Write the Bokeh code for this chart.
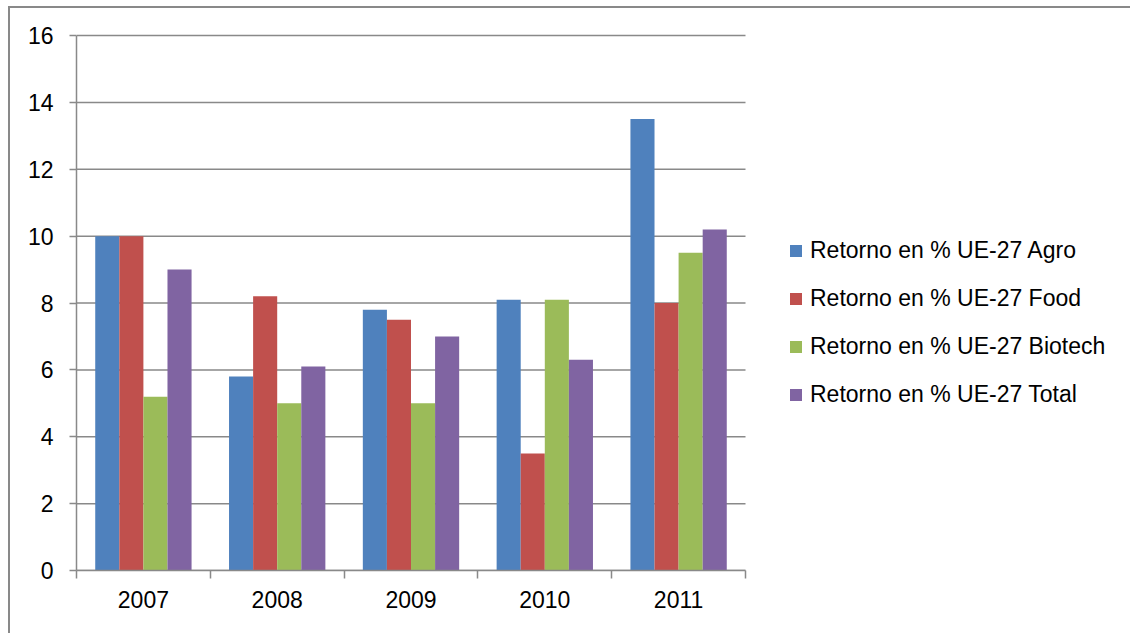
from bokeh.plotting import figure
from bokeh.models import ColumnDataSource, Range1d, FixedTicker, SingleIntervalTicker, Legend, LegendItem, Grid
from bokeh.transform import dodge
from bokeh.embed import file_html
from bokeh.resources import INLINE

years = ["2007", "2008", "2009", "2010", "2011"]
agro = [10.0, 5.8, 7.8, 8.1, 13.5]
food = [10.0, 8.2, 7.5, 3.5, 8.0]
biotech = [5.2, 5.0, 5.0, 8.1, 9.5]
total = [9.0, 6.1, 7.0, 6.3, 10.2]
series_names = ["Retorno en % UE-27 Agro", "Retorno en % UE-27 Food",
                "Retorno en % UE-27 Biotech", "Retorno en % UE-27 Total"]
colors = ["#4F81BD", "#C0504D", "#9BBB59", "#8064A2"]
y_ticks = [0, 2, 4, 6, 8, 10, 12, 14, 16]

FONT = "Liberation Sans"
GRAY = "#898989"

W, H = 1122, 627
BL, BT, BB, BR = 66, 25, 65, 0
frame_w = W - BL - BR
plot_w = 669  # pixel width of the category area
n = len(years)

xs = [i + 0.5 for i in range(n)]
src = ColumnDataSource(dict(x=xs, agro=agro, food=food, biotech=biotech, total=total))

p = figure(width=W, height=H, output_backend="svg", toolbar_location=None,
           x_range=Range1d(0, n * frame_w / plot_w), y_range=Range1d(0, 16.06),
           min_border_left=BL, min_border_top=BT, min_border_bottom=BB, min_border_right=BR)
p.styles = {"border-left": f"2px solid {GRAY}", "border-top": f"2px solid {GRAY}",
            "margin-left": "8px", "margin-top": "6px"}
p.outline_line_color = None
p.background_fill_color = "white"
p.border_fill_color = "white"

# horizontal grid lines limited to the category area
p.xgrid.grid_line_color = None
p.ygrid.grid_line_color = None
p.segment(x0=[0] * len(y_ticks), x1=[n] * len(y_ticks), y0=y_ticks, y1=y_ticks,
          line_color=GRAY, line_width=1.5)

bw = 0.18
offsets = [-0.27, -0.09, 0.09, 0.27]
items = []
for key, off, col, name in zip(["agro", "food", "biotech", "total"], offsets, colors, series_names):
    r = p.vbar(x=dodge("x", off, range=p.x_range), top=key, width=bw, source=src,
               fill_color=col, line_color=None)
    items.append(LegendItem(label=name, renderers=[r]))

# y axis
p.yaxis.ticker = FixedTicker(ticks=y_ticks)
p.yaxis.axis_line_color = GRAY
p.yaxis.axis_line_width = 1.5
p.yaxis.major_tick_line_color = GRAY
p.yaxis.major_tick_line_width = 1.5
p.yaxis.major_tick_in = 0
p.yaxis.major_tick_out = 7
p.yaxis.minor_tick_line_color = None
p.yaxis.major_label_standoff = 16
p.yaxis.major_label_text_font = FONT
p.yaxis.major_label_text_font_size = "23px"
p.yaxis.major_label_text_color = "black"
p.yaxis.bounds = (0, 16)

# x axis
p.xaxis.ticker = FixedTicker(ticks=xs, minor_ticks=list(range(n + 1)))
p.xaxis.major_label_overrides = {x: y for x, y in zip(xs, years)}
p.xaxis.bounds = (0, n)
p.xaxis.axis_line_color = GRAY
p.xaxis.axis_line_width = 1.5
p.xaxis.major_tick_line_color = None
p.xaxis.major_tick_in = 0
p.xaxis.major_tick_out = 8
p.xaxis.minor_tick_line_color = GRAY
p.xaxis.minor_tick_line_width = 1.5
p.xaxis.minor_tick_in = 0
p.xaxis.minor_tick_out = 8
p.xaxis.major_label_standoff = 12
p.xaxis.major_label_text_font = FONT
p.xaxis.major_label_text_font_size = "23px"
p.xaxis.major_label_text_color = "black"

leg = Legend(items=items, location=(712, 162))
leg.padding = 0
leg.margin = 0
leg.border_line_color = None
leg.background_fill_alpha = 0
leg.glyph_width = 15
leg.glyph_height = 15
leg.label_standoff = 7
leg.spacing = 21
leg.label_text_font = FONT
leg.label_text_font_size = "23px"
leg.label_text_color = "black"
p.add_layout(leg, "center")

open("out.html", "w").write(file_html(p, INLINE))
